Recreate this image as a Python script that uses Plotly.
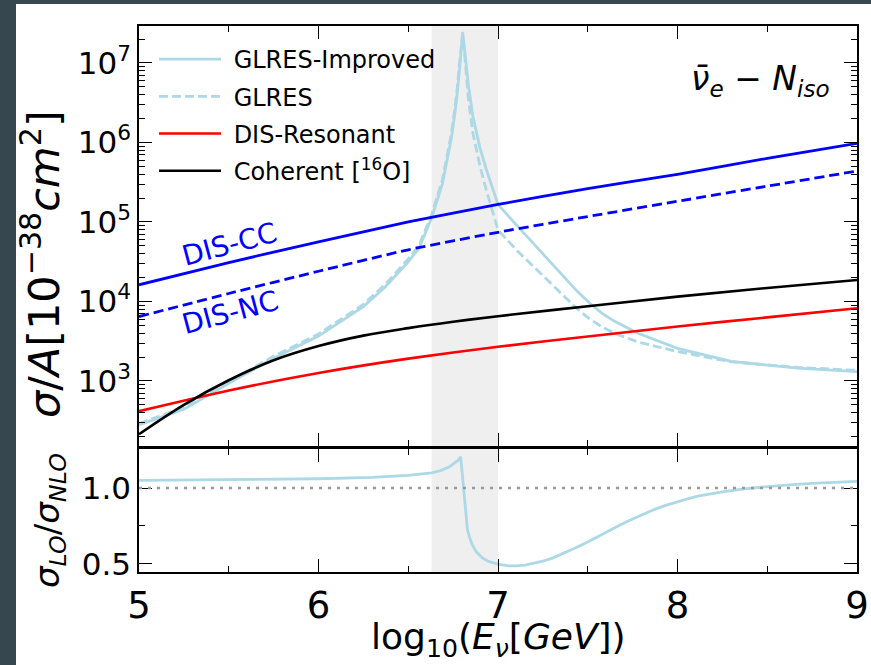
import plotly.graph_objects as go

# ---------------- data ----------------
x_dis = [5.0, 5.5, 6.0, 6.5, 7.0, 7.5, 8.0, 8.5, 9.0]
dis_cc = [16200, 30900, 56200, 100000, 166000, 263000, 398000, 631000, 977000]
dis_nc = [6460, 12600, 24000, 44700, 74100, 117000, 182000, 282000, 437000]
dis_res = [417, 759, 1260, 1910, 2690, 3630, 4840, 6310, 8220]

x_coh = [5.0, 5.25, 5.5, 5.75, 6.0, 6.25, 6.5, 6.75, 7.0, 7.5, 8.0, 8.5, 9.0]
coherent = [214, 501, 1020, 1820, 2750, 3720, 4620, 5560, 6530, 8710, 11500, 14800, 18600]

x_res = [5.0, 5.25, 5.5, 5.75, 6.0, 6.25, 6.37, 6.5, 6.56, 6.63, 6.69, 6.72, 6.74,
         6.755, 6.77, 6.785, 6.795, 6.803, 6.81, 6.82, 6.835, 6.86, 6.9, 6.935,
         6.965, 7.0, 7.11, 7.25, 7.37, 7.44, 7.51, 7.58, 7.65, 7.78, 8.0, 8.3, 8.67, 9.0]
glres_improved = [279, 442, 933, 1930, 3670, 8610, 15100, 31600, 46800, 1.12e5,
                  3.02e5, 6.31e5, 1.12e6, 1.95e6, 3.55e6, 7.94e6, 1.41e7, 2.45e7,
                  1.78e7, 1.05e7, 5.25e6, 2.14e6, 8.51e5, 4.57e5, 2.82e5, 1.66e5,
                  8.81e4, 3.94e4, 1.97e4, 1.35e4, 9550, 7080, 5620, 3980, 2570, 1760, 1450, 1310]
glres = [292, 465, 984, 2040, 3890, 9200, 16200, 34300, 50900, 1.23e5,
         3.39e5, 7.16e5, 1.28e6, 2.25e6, 4.17e6, 9.44e6, 1.66e7, 2.29e7,
         1.62e7, 8.13e6, 3.55e6, 1.32e6, 5.01e5, 2.51e5, 1.45e5, 7.94e4,
         4.27e4, 2.09e4, 1.15e4, 8130, 6030, 4790, 3980, 3090, 2340, 1740, 1480, 1360]

x_ratio = [5.0, 5.5, 6.0, 6.3, 6.5, 6.63, 6.68, 6.73, 6.76, 6.78, 6.792, 6.80, 6.81,
           6.82, 6.83, 6.84, 6.857, 6.88, 6.913, 6.95, 6.98, 7.006, 7.06, 7.1, 7.15,
           7.2, 7.25, 7.31, 7.37, 7.43, 7.5, 7.56, 7.62, 7.68, 7.75, 7.81, 7.87, 7.93,
           8.0, 8.06, 8.12, 8.19, 8.25, 8.37, 8.5, 8.62, 8.75, 8.87, 9.0]
ratio = [1.05, 1.055, 1.061, 1.07, 1.083, 1.10, 1.115, 1.14, 1.165, 1.185, 1.205, 1.10,
         0.95, 0.82, 0.725, 0.68, 0.625, 0.578, 0.54, 0.515, 0.504, 0.498, 0.487, 0.487,
         0.492, 0.503, 0.518, 0.542, 0.572, 0.605, 0.645, 0.683, 0.72, 0.757, 0.796,
         0.828, 0.858, 0.884, 0.91, 0.93, 0.948, 0.963, 0.975, 0.995, 1.01, 1.021, 1.03,
         1.037, 1.044]

band = [6.63, 7.0]
y_major = [1e3, 1e4, 1e5, 1e6, 1e7]
y_major_text = ["10<sup>3</sup>", "10<sup>4</sup>", "10<sup>5</sup>", "10<sup>6</sup>", "10<sup>7</sup>"]
r_major = [0.5, 1.0]
r_major_text = ["0.5", "1.0"]
legend_names = ["GLRES-Improved", "GLRES", "DIS-Resonant", "Coherent [<sup>16</sup>O]"]

# ---------------- layout geometry ----------------
W, H = 871, 665
L, R, T, B = 139, 857, 26, 572
PW, PH = R - L, B - T


def px(x):
    return (x - L) / PW


def py(y):
    return (B - y) / PH


top_dom = [py(446), 1.0]
bot_dom = [0.0, py(449)]

FONT = "DejaVu Sans"
LB = "#add8e6"
NB = "\u00a0"

fig = go.Figure()

fig.add_trace(go.Scatter(x=x_res, y=glres_improved, mode="lines", name=NB + legend_names[0],
                         line=dict(color=LB, width=2.8), legendgroup="a",
                         xaxis="x", yaxis="y"))
fig.add_trace(go.Scatter(x=x_res, y=glres, mode="lines", name=NB + legend_names[1],
                         line=dict(color=LB, width=2.8, dash="9px,4px"), legendgroup="b",
                         xaxis="x", yaxis="y"))
fig.add_trace(go.Scatter(x=x_dis, y=dis_res, mode="lines", name=NB + legend_names[2],
                         line=dict(color="#ff0000", width=2.6, shape="spline", smoothing=0.6),
                         legendgroup="c", xaxis="x", yaxis="y"))
fig.add_trace(go.Scatter(x=x_coh, y=coherent, mode="lines", name=NB + legend_names[3],
                         line=dict(color="#000000", width=2.6, shape="spline", smoothing=1.0),
                         legendgroup="d", xaxis="x", yaxis="y"))
fig.add_trace(go.Scatter(x=x_dis, y=dis_cc, mode="lines", name="DIS-CC", showlegend=False,
                         line=dict(color="#0000ff", width=2.8, shape="spline", smoothing=0.6),
                         xaxis="x", yaxis="y"))
fig.add_trace(go.Scatter(x=x_dis, y=dis_nc, mode="lines", name="DIS-NC", showlegend=False,
                         line=dict(color="#0000ff", width=2.8, dash="10px,5px", shape="spline",
                                   smoothing=0.6),
                         xaxis="x", yaxis="y"))
fig.add_trace(go.Scatter(x=x_ratio, y=ratio, mode="lines", name="ratio", showlegend=False,
                         line=dict(color=LB, width=2.8),
                         xaxis="x2", yaxis="y2"))

axis_common = dict(showline=True, linecolor="black", linewidth=1.6, mirror="allticks",
                   ticks="inside", tickcolor="black", tickwidth=1.4, ticklen=13,
                   showgrid=False, zeroline=False, automargin=False)
minor_common = dict(ticks="inside", ticklen=6, tickcolor="black", tickwidth=1.2)

fig.update_layout(
    width=W, height=H, autosize=False,
    margin=dict(l=L, r=W - R, t=T, b=H - B, pad=0, autoexpand=False),
    paper_bgcolor="#37474f", plot_bgcolor="white",
    font=dict(family=FONT, color="black"),
    showlegend=True,
    legend=dict(x=px(154), y=py(37), xanchor="left", yanchor="top",
                bgcolor="rgba(0,0,0,0)", borderwidth=0,
                font=dict(size=24, family=FONT), tracegroupgap=3,
                itemwidth=62),
    xaxis=dict(domain=[0, 1], anchor="y", range=[5, 9], tick0=5, dtick=1,
               showticklabels=False,
               minor=dict(dtick=0.5, **minor_common),
               **axis_common),
    yaxis=dict(domain=top_dom, anchor="x", type="log", range=[2.182, 7.465],
               tickmode="array", tickvals=y_major, ticktext=y_major_text,
               tickfont=dict(size=31, family=FONT),
               minor=dict(tickmode="array",
                          tickvals=[m * 10 ** e for e in range(2, 8) for m in range(2, 10)],
                          **minor_common),
               **axis_common),
    xaxis2=dict(domain=[0, 1], anchor="y2", range=[5, 9], tick0=5, dtick=1,
                matches="x", tickfont=dict(size=37, family=FONT),
                minor=dict(dtick=0.5, **minor_common),
                **axis_common),
    yaxis2=dict(domain=bot_dom, anchor="x2", range=[0.447, 1.257],
                tickmode="array", tickvals=r_major, ticktext=r_major_text,
                tickfont=dict(size=31, family=FONT),
                minor=dict(tickmode="array", tickvals=[0.75], **minor_common),
                **axis_common),
)

# white figure canvas over the dark surround
fig.add_shape(type="rect", xref="paper", yref="paper", layer="below",
              x0=px(16), x1=px(W + 20), y0=py(H + 20), y1=py(4),
              fillcolor="white", line=dict(width=0))
# shaded band
fig.add_shape(type="rect", xref="x", yref="y domain", layer="below",
              x0=band[0], x1=band[1], y0=0, y1=1, fillcolor="#efefef", line=dict(width=0))
fig.add_shape(type="rect", xref="x2", yref="y2 domain", layer="below",
              x0=band[0], x1=band[1], y0=0, y1=1, fillcolor="#efefef", line=dict(width=0))
# unity reference line
fig.add_shape(type="line", xref="x2 domain", yref="y2", x0=0, x1=1, y0=1.0, y1=1.0,
              line=dict(color="#999999", width=2.6, dash="3px,6px"))

ann = []
ann.append(dict(text="<i>σ</i>/<i>A</i>[10<sup>−38</sup><i>cm</i><sup>2</sup>]",
                x=px(41), y=py(264), xref="paper", yref="paper", showarrow=False,
                textangle=-90, font=dict(size=43, family=FONT), xanchor="center", yanchor="middle"))
ann.append(dict(text="<i>σ</i><sub><i>LO</i></sub>/<i>σ</i><sub><i>NLO</i></sub>",
                x=px(49), y=py(521), xref="paper", yref="paper", showarrow=False,
                textangle=-90, font=dict(size=34, family=FONT), xanchor="center", yanchor="middle"))
ann.append(dict(text="log<sub>10</sub>(<i>E</i><sub><i>ν</i></sub>[<i>GeV</i>])",
                x=px(498), y=py(639), xref="paper", yref="paper", showarrow=False,
                font=dict(size=36, family=FONT), xanchor="center", yanchor="middle"))
ann.append(dict(text="<i>ν̄</i><sub><i>e</i></sub> − <i>N</i><sub><i>iso</i></sub>",
                x=px(832), y=py(80), xref="paper", yref="paper", showarrow=False,
                font=dict(size=33, family=FONT), xanchor="right", yanchor="middle"))
ann.append(dict(text="DIS-CC", x=px(229), y=py(244), xref="paper", yref="paper",
                showarrow=False, textangle=-15, xanchor="center", yanchor="middle",
                font=dict(size=28, color="#0000ff", family=FONT)))
ann.append(dict(text="DIS-NC", x=px(230), y=py(312), xref="paper", yref="paper",
                showarrow=False, textangle=-15, xanchor="center", yanchor="middle",
                font=dict(size=28, color="#0000ff", family=FONT)))
fig.update_layout(annotations=ann)

fig.write_html("out.html",
               config={"displayModeBar": False},
               post_script="document.body.style.margin='0px';"
                           "document.body.style.padding='0px';"
                           "document.body.style.background='#37474f';"
                           "document.documentElement.style.overflow='hidden';")
